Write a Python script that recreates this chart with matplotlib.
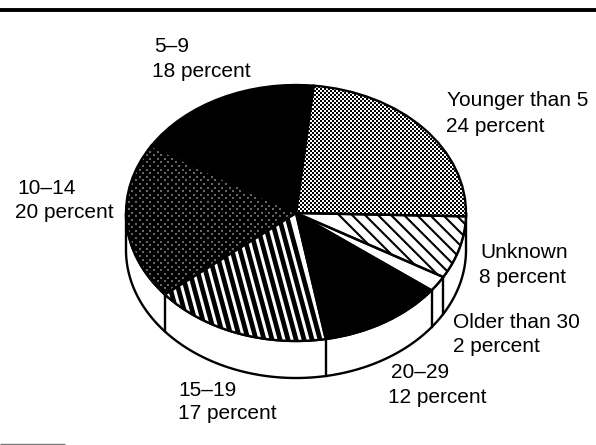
import numpy as np
import matplotlib
matplotlib.use("Agg")
import matplotlib.pyplot as plt
from matplotlib.patches import Polygon

categories = ["Younger than 5", "5\u20139", "10\u201314", "15\u201319", "20\u201329", "Older than 30", "Unknown"]
values = [24, 18, 20, 17, 12, 2, 8]
label_text = ["24 percent", "18 percent", "20 percent", "17 percent", "12 percent", "2 percent", "8 percent"]

W, H = 596, 445
CX, CY, RX, RY, DEPTH = 296, 213, 170, 128, 37
START = -1.5
LW = 1.7
plt.rcParams['font.family'] = ['Liberation Sans', 'DejaVu Sans']

fig = plt.figure(figsize=(W/100, H/100), dpi=100, facecolor='white')


def pixel_axes():
    a = fig.add_axes([0, 0, 1, 1])
    a.set_xlim(0, W)
    a.set_ylim(H, 0)
    a.axis('off')
    return a


bg = pixel_axes()

# extruded side, behind the pie
frac = np.cumsum([0] + values) / sum(values)
angles = 2*np.pi*frac + np.deg2rad(START)
t = np.linspace(np.pi, 2*np.pi, 200)
xs = CX + RX*np.cos(t)
ys = CY - RY*np.sin(t)
bg.add_patch(Polygon(np.r_[np.c_[xs, ys], np.c_[xs, ys+DEPTH][::-1]], closed=True,
                     fc='white', ec='black', lw=LW, zorder=1))
for a in angles:
    if np.sin(a) < -0.05:
        x = CX + RX*np.cos(a)
        y = CY - RY*np.sin(a)
        bg.plot([x, x], [y, y+DEPTH], color='black', lw=LW, zorder=2)

# pie: axes box exactly bounds the ellipse
box = [(CX-RX)/W, 1-(CY+RY)/H, 2*RX/W, 2*RY/H]
ax = fig.add_axes(box)
ax.patch.set_alpha(0)
wedges, _ = ax.pie(values, startangle=START, counterclock=True, radius=1)
ax.set_aspect('auto')
ax.set_xlim(-1, 1)
ax.set_ylim(-1, 1)
fills = ['white', 'black', 'black', 'white', 'black', 'white', 'white']
for w, c in zip(wedges, fills):
    w.set_facecolor(c)
    w.set_edgecolor('none')
    w.set_linewidth(0)

# fill textures, clipped to their wedges
tex = pixel_axes()

# fine checker for "Younger than 5"
gx, gy = np.meshgrid(np.arange(280, 480, 2), np.arange(70, 230, 2))
mask = (gx//2 + gy//2) % 2 == 0
sc = tex.scatter(gx[mask]+1, gy[mask]+1, s=(2*0.72)**2, marker='s', c='black',
                 linewidths=0, antialiaseds=False)
sc.set_clip_path(wedges[0])

# sparse dots for "10-14"
gx, gy = np.meshgrid(np.arange(100, 320, 3.6), np.arange(130, 320, 3.6))
mask = (np.round((gx-100)/3.6) + np.round((gy-130)/3.6)) % 2 == 0
sc = tex.scatter(gx[mask], gy[mask], s=(1.3*0.72)**2, marker='s', c='#666666', linewidths=0)
sc.set_clip_path(wedges[2])

# tilted stripes for "15-19"
for x0 in np.arange(321.5, 140, -8.0):
    ln, = tex.plot([x0, x0-35], [345, 215], color='black', lw=3.4, solid_capstyle='butt')
    ln.set_clip_path(wedges[3])

# diagonal stripes for "Unknown"
for k in np.arange(-2, 14):
    c = 150 + 13*k
    ln, = tex.plot([c+200, c+300], [200, 300], color='black', lw=1.5, solid_capstyle='butt')
    ln.set_clip_path(wedges[6])

# outlines
out = fig.add_axes(box)
out.patch.set_alpha(0)
out.pie(values, startangle=START, radius=1,
        wedgeprops=dict(fill=False, edgecolor='black', linewidth=LW))
out.set_aspect('auto')
out.set_xlim(-1, 1)
out.set_ylim(-1, 1)

# rules and labels
top = pixel_axes()
top.plot([0, W], [9.5, 9.5], color='black', lw=2.8, solid_capstyle='butt')
top.plot([0, 65], [444, 444], color='#777777', lw=1, solid_capstyle='butt')

pos = {0: (447, 106, 446, 132), 1: (154, 52, 152, 77), 2: (17, 194, 15, 218),
       3: (178, 396, 178, 419), 4: (391, 378, 388, 403),
       5: (453, 328, 453, 352), 6: (480, 258, 479, 283)}
for i, (x1, y1, x2, y2) in pos.items():
    top.text(x1, y1, categories[i], fontsize=15.0, va='baseline', ha='left', color='black')
    top.text(x2, y2, label_text[i], fontsize=15.0, va='baseline', ha='left', color='black')

fig.savefig('out.png', dpi=100)
